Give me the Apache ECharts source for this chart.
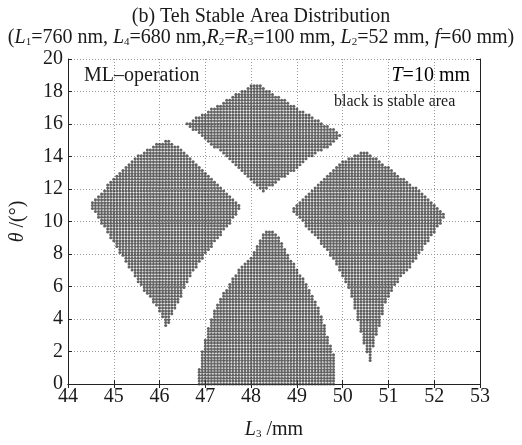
<!DOCTYPE html>
<html>
<head>
<meta charset="utf-8">
<script src="https://cdn.jsdelivr.net/npm/echarts@6/dist/echarts.min.js"></script>
<style>
  html, body { margin: 0; padding: 0; background: #fff; }
  #chart { width: 522px; height: 445px; }
</style>
</head>
<body>
<div id="chart"></div>
<script>
// Axis ranges and tick labels
const xTicks = [44, 45, 46, 47, 48, 49, 50, 51, 52, 53];
const yTicks = [0, 2, 4, 6, 8, 10, 12, 14, 16, 18, 20];

// Scan resolution of the (L3, theta) stability sweep
const stepL3 = 1 / 15;
const stepTheta = 0.18;

// Outlines of the four stable regions, [L3 (mm), theta (deg)]
const leftRegion = [
  [44.48, 11.12], [44.78, 11.96], [44.98, 12.69], [45.37, 13.72], [45.85, 14.68],
  [46.16, 15.05], [46.40, 14.62], [47.07, 12.87], [47.77, 10.88], [47.49, 9.67],
  [47.05, 8.16], [46.68, 6.65], [46.29, 4.35], [46.16, 3.32], [46.03, 4.35],
  [45.59, 6.04], [45.05, 8.46], [44.55, 10.69]
];
const upperRegion = [
  [48.10, 18.55], [49.99, 15.35], [49.73, 14.68], [49.36, 14.08], [49.01, 13.29],
  [48.71, 12.69], [48.25, 11.78], [47.55, 13.78], [46.57, 16.01]
];
const rightRegion = [
  [50.49, 14.38], [51.69, 11.90], [52.13, 10.76], [52.28, 10.39], [51.98, 9.24],
  [51.54, 7.43], [51.26, 6.47], [50.97, 5.26], [50.71, 2.72], [50.60, 1.33],
  [50.43, 2.72], [50.17, 5.74], [49.80, 7.67], [49.45, 8.88], [49.08, 10.09],
  [48.86, 10.69], [49.01, 11.12], [49.19, 11.66], [49.58, 12.69], [50.01, 13.72]
];
const lowerRegion = [
  [46.85, -0.05], [46.85, 0.73], [46.96, 2.42], [47.07, 3.63], [47.23, 4.83],
  [47.49, 6.04], [47.77, 7.25], [48.05, 8.04], [48.21, 9.06], [48.38, 9.49],
  [48.58, 9.24], [48.79, 8.04], [49.01, 7.07], [49.23, 6.04], [49.45, 4.83],
  [49.58, 3.81], [49.69, 2.84], [49.80, 1.93], [49.84, -0.05]
];
const regions = [leftRegion, upperRegion, rightRegion, lowerRegion];

function inside(poly, x, y) {
  let hit = false;
  for (let i = 0, j = poly.length - 1; i < poly.length; j = i++) {
    const [xi, yi] = poly[i], [xj, yj] = poly[j];
    if ((yi > y) !== (yj > y) && x < (xj - xi) * (y - yi) / (yj - yi) + xi) hit = !hit;
  }
  return hit;
}

// Sweep points that fall in a stable region
const stablePoints = [];
for (let r = 0; r * stepTheta <= 20; r++) {
  const th = r * stepTheta;
  for (let c = 0; 44 + c * stepL3 <= 53; c++) {
    const l3 = 44 + c * stepL3;
    if (regions.some(p => inside(p, l3, th))) stablePoints.push([l3, th]);
  }
}

const serif = '"Liberation Serif", "DejaVu Serif", serif';
const ink = '#1a1a1a';
const richStyles = {
  n: { fontFamily: serif, fontSize: 20, color: ink },
  i: { fontFamily: serif, fontSize: 20, color: ink, fontStyle: 'italic' },
  s: { fontFamily: serif, fontSize: 11, color: ink, verticalAlign: 'bottom', lineHeight: 9 }
};

const chart = echarts.init(document.getElementById('chart'), null, { renderer: 'canvas' });

const frameAxis = {
  type: 'value',
  axisLine: { show: true, lineStyle: { color: '#222', width: 1 } },
  axisTick: { show: true, inside: true, length: 4, lineStyle: { color: '#222' } },
  axisLabel: { show: false },
  splitLine: { show: false }
};

chart.setOption({
  animation: false,
  backgroundColor: '#fff',
  title: {
    left: 'center',
    top: 1,
    text: '{n|(b) Teh Stable Area Distribution}\n' +
      '{n|(}{i|L}{s|1}{n|=760 nm, }{i|L}{s|4}{n|=680 nm,}{i|R}{s|2}{n|=}{i|R}{s|3}' +
      '{n|=100 mm, }{i|L}{s|2}{n|=52 mm, }{i|f}{n|=60 mm)}',
    textStyle: { fontFamily: serif, fontSize: 20, fontWeight: 'normal', color: ink, lineHeight: 21, rich: richStyles }
  },
  grid: { left: 67, right: 42, top: 59, bottom: 55, containLabel: false },
  xAxis: [
    {
      type: 'value', min: xTicks[0], max: xTicks[xTicks.length - 1], interval: 1,
      position: 'bottom',
      name: '{i|L}{s|3}{n| /mm}', nameLocation: 'middle', nameGap: 36,
      nameTextStyle: { rich: richStyles },
      axisLine: { show: true, lineStyle: { color: '#222', width: 1 } },
      axisTick: { show: true, inside: true, length: 4, lineStyle: { color: '#222' } },
      axisLabel: { fontFamily: serif, fontSize: 20, color: ink, margin: 3 },
      splitLine: { show: true, lineStyle: { color: '#9a9a9a', type: [1, 2], width: 1 } }
    },
    Object.assign({}, frameAxis, { min: xTicks[0], max: xTicks[xTicks.length - 1], interval: 1, position: 'top' })
  ],
  yAxis: [
    {
      type: 'value', min: yTicks[0], max: yTicks[yTicks.length - 1], interval: 2,
      position: 'left',
      name: '{i|θ}{n| /(°)}', nameLocation: 'middle', nameGap: 40, nameRotate: 90,
      nameTextStyle: { rich: richStyles },
      axisLine: { show: true, lineStyle: { color: '#222', width: 1 } },
      axisTick: { show: true, inside: true, length: 4, lineStyle: { color: '#222' } },
      axisLabel: { fontFamily: serif, fontSize: 20, color: ink, margin: 5 },
      splitLine: { show: true, lineStyle: { color: '#9a9a9a', type: [1, 2], width: 1 } }
    },
    Object.assign({}, frameAxis, { min: yTicks[0], max: yTicks[yTicks.length - 1], interval: 2, position: 'right' })
  ],
  graphic: [
    { type: 'text', left: 84, top: 66, style: { text: 'ML–operation', font: '20px ' + serif, fill: ink } },
    { type: 'text', right: 52, top: 66, style: { text: '{i|T}{n|=10 mm}', rich: richStyles } },
    { type: 'text', left: 334, top: 94, style: { text: 'black is stable area', font: '16px ' + serif, fill: ink } }
  ],
  series: [{
    type: 'scatter',
    data: stablePoints,
    symbol: 'circle',
    symbolSize: 3,
    itemStyle: { color: '#3a3a3a' },
    clip: true,
    silent: true
  }]
});
</script>
</body>
</html>
